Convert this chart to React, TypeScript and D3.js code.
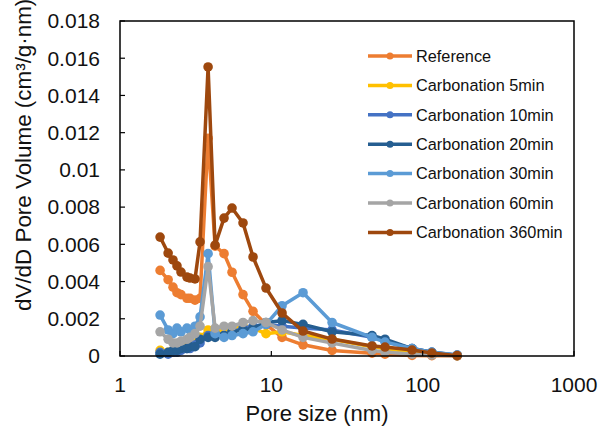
import React from "react";
import * as d3 from "d3";

// Pore size (nm) – shared BJH grid
const poreSize = [1.84, 2.08, 2.24, 2.38, 2.53, 2.77, 2.9, 3.13, 3.38, 3.82, 4.25, 4.87, 5.5, 6.5, 7.57, 9.22, 11.77, 16.2, 25.2, 46.3, 56.4, 85.1, 115, 169];

const seriesNames = ["Reference", "Carbonation 5min", "Carbonation 10min", "Carbonation 20min", "Carbonation 30min", "Carbonation 60min", "Carbonation 360min"];
const seriesColors = ["#ED7D31", "#FFC000", "#4472C4", "#255E91", "#5B9BD5", "#A5A5A5", "#9E480E"];

const reference = [0.0046, 0.0041, 0.0037, 0.0034, 0.0033, 0.0031, 0.0031, 0.003, 0.0031, 0.0117, 0.0059, 0.0055, 0.0045, 0.0033, 0.0024, 0.0017, 0.001, 0.0006, 0.0003, 0.00015, 0.0001, 0.00003, 0.00002, 0.00001];
const carb5 = [0.0003, 0.0002, 0.0002, 0.0003, 0.0004, 0.0005, 0.0006, 0.0007, 0.001, 0.0014, 0.0013, 0.0014, 0.0015, 0.0016, 0.0015, 0.0012, 0.0013, 0.0011, 0.0009, 0.0005, 0.0004, 0.0002, 0.0001, 0.00002];
const carb10 = [0.0002, 0.0001, 0.0002, 0.0002, 0.0003, 0.0004, 0.0004, 0.0006, 0.0007, 0.0011, 0.0012, 0.0011, 0.0013, 0.0015, 0.0016, 0.0017, 0.0016, 0.0015, 0.0014, 0.001, 0.0008, 0.0004, 0.0002, 0.00005];
const carb20 = [0.0001, 0.0002, 0.0003, 0.0003, 0.0004, 0.0004, 0.0005, 0.0005, 0.0009, 0.001, 0.001, 0.0011, 0.0013, 0.0014, 0.0015, 0.0018, 0.0019, 0.0017, 0.0013, 0.0011, 0.0009, 0.0004, 0.0002, 0.00003];
const carb30 = [0.0022, 0.0014, 0.0012, 0.0015, 0.0013, 0.0015, 0.0014, 0.0016, 0.0021, 0.0055, 0.0012, 0.001, 0.0011, 0.0012, 0.0013, 0.0017, 0.0027, 0.0034, 0.0018, 0.001, 0.00075, 0.0004, 0.0002, 0.00005];
const carb60 = [0.0013, 0.0009, 0.0007, 0.0007, 0.0008, 0.0009, 0.001, 0.0012, 0.0016, 0.0048, 0.0015, 0.0016, 0.0016, 0.0018, 0.0019, 0.0018, 0.0014, 0.001, 0.0007, 0.0003, 0.00022, 0.0001, 0.00005, 0.00001];
const carb360 = [0.00639, 0.00553, 0.00516, 0.00484, 0.00451, 0.00424, 0.00419, 0.00414, 0.00613, 0.01553, 0.00596, 0.00741, 0.00795, 0.00715, 0.00532, 0.00365, 0.00231, 0.00134, 0.00091, 0.00054, 0.00048, 0.00032, 0.00016, 0.00002];

const seriesValues = [reference, carb5, carb10, carb20, carb30, carb60, carb360];

const xTicks = [1, 10, 100, 1000];
const yTicks = [0, 0.002, 0.004, 0.006, 0.008, 0.01, 0.012, 0.014, 0.016, 0.018];

const W = 601;
const H = 428;
const L = 120, R = 574, T = 21, B = 356;
const FONT = "'Liberation Sans', Arial, Helvetica, sans-serif";

export default function App() {
  const x = d3.scaleLog().domain([1, 1000]).range([L, R]);
  const y = d3.scaleLinear().domain([0, 0.018]).range([B, T]);
  const line = d3
    .line<[number, number]>()
    .x((d) => x(d[0]))
    .y((d) => y(d[1]));

  const legendX0 = 368, legendX1 = 412, legendY0 = 56, legendDy = 29.4;

  return (
    <svg width={W} height={H} style={{ position: "absolute", left: 0, top: 0, background: "#fff" }} fontFamily={FONT}>
      <rect x={0} y={0} width={W} height={H} fill="#fff" />
      {/* series */}
      {seriesValues.map((vals, si) => {
        const pts: [number, number][] = poreSize.map((p, i) => [p, vals[i]]);
        return (
          <g key={si}>
            <path d={line(pts) || ""} fill="none" stroke={seriesColors[si]} strokeWidth={3.5} strokeLinejoin="round" />
            {pts.map((d, i) => (
              <circle key={i} cx={x(d[0])} cy={y(d[1])} r={4.8} fill={seriesColors[si]} />
            ))}
          </g>
        );
      })}
      {/* frame */}
      <rect x={L} y={T} width={R - L} height={B - T} fill="none" stroke="#000" strokeWidth={1.5} />
      {/* y ticks */}
      {yTicks.map((t) => (
        <g key={t}>
          <line x1={L} x2={L + 5} y1={y(t)} y2={y(t)} stroke="#000" strokeWidth={1.2} />
          <text x={100} y={y(t)} dy="0.35em" textAnchor="end" fontSize={21} fill="#111">
            {t === 0 ? "0" : String(t)}
          </text>
        </g>
      ))}
      {/* x ticks */}
      {xTicks.map((t) => (
        <g key={t}>
          <line x1={x(t)} x2={x(t)} y1={B} y2={B - 5} stroke="#000" strokeWidth={1.2} />
          <text x={x(t)} y={392} textAnchor="middle" fontSize={21} fill="#111">
            {String(t)}
          </text>
        </g>
      ))}
      {/* axis titles */}
      <text x={317} y={421} textAnchor="middle" fontSize={22} fill="#111">
        Pore size (nm)
      </text>
      <text transform={`translate(31, 311) rotate(-90)`} textAnchor="start" fontSize={22.4} fill="#111">
        dV/dD Pore Volume (cm³/g·nm)
      </text>
      {/* legend */}
      {seriesNames.map((n, i) => {
        const ly = legendY0 + i * legendDy;
        return (
          <g key={n}>
            <line x1={legendX0} x2={legendX1} y1={ly} y2={ly} stroke={seriesColors[i]} strokeWidth={3.5} />
            <circle cx={(legendX0 + legendX1) / 2} cy={ly} r={3.5} fill={seriesColors[i]} />
            <text x={416} y={ly} dy="0.35em" fontSize={16.3} fill="#111">
              {n}
            </text>
          </g>
        );
      })}
    </svg>
  );
}
